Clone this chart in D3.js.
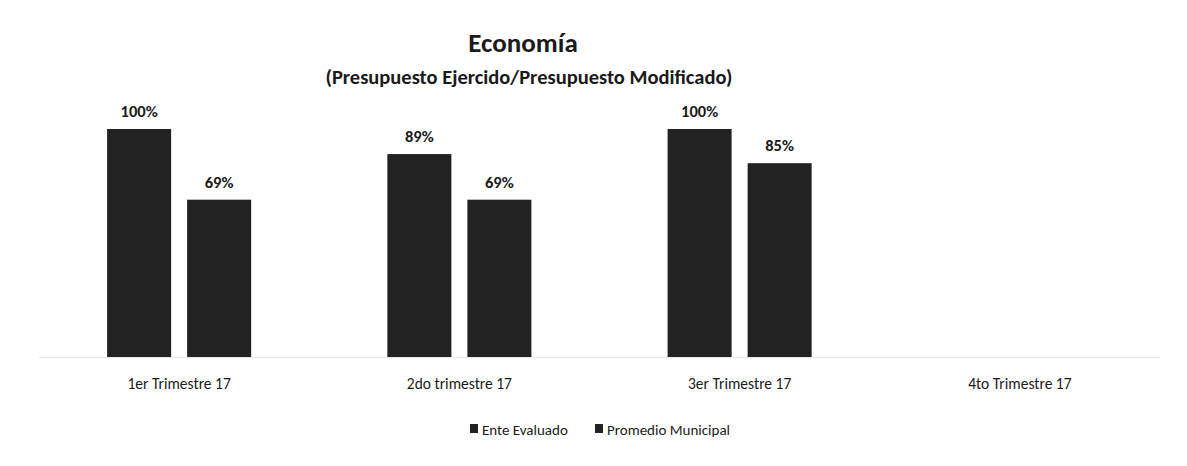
<!DOCTYPE html>
<html lang="es">
<head>
<meta charset="UTF-8">
<script src="https://d3js.org/d3.v7.min.js"></script>
<style>
  body { margin: 0; background: #fff; }
  svg { display: block; font-family: Carlito, "Liberation Sans Narrow", "Open Sans", sans-serif; }
</style>
</head>
<body>
<div id="chart"></div>
<script>
// Data
const categories = ["1er Trimestre 17", "2do trimestre 17", "3er Trimestre 17", "4to Trimestre 17"];
const seriesNames = ["Ente Evaluado", "Promedio Municipal"];
const enteEvaluado = [1.00, 0.89, 1.00, null];
const promedioMunicipal = [0.69, 0.69, 0.85, null];

const width = 1187, height = 466;

const svg = d3.select("#chart").append("svg")
    .attr("width", width)
    .attr("height", height);

svg.append("rect").attr("width", width).attr("height", height).attr("fill", "#fff");

// Scales
const x0 = d3.scaleBand()
    .domain(categories)
    .range([39, 1160])
    .paddingInner(0.486)
    .paddingOuter(0.243);

const x1 = d3.scaleBand()
    .domain(seriesNames)
    .range([0, x0.bandwidth()])
    .paddingInner(0.2);

const y = d3.scaleLinear()
    .domain([0, 1])
    .range([357, 129]);

const rows = categories.map((c, i) => ({
    cat: c,
    values: [
        { key: seriesNames[0], v: enteEvaluado[i] },
        { key: seriesNames[1], v: promedioMunicipal[i] }
    ]
}));

// Title
svg.append("text")
    .attr("x", 523).attr("y", 52)
    .attr("text-anchor", "middle")
    .style("font-size", "27px")
    .style("font-weight", "bold")
    .attr("fill", "#1a1a1a")
    .text("Economía");

svg.append("text")
    .attr("x", 529).attr("y", 84)
    .attr("text-anchor", "middle")
    .style("font-size", "20.5px")
    .style("font-weight", "bold")
    .attr("fill", "#1a1a1a")
    .text("(Presupuesto Ejercido/Presupuesto Modificado)");

// Baseline
svg.append("line")
    .attr("x1", 39).attr("x2", 1160)
    .attr("y1", y(0) + 0.5).attr("y2", y(0) + 0.5)
    .attr("stroke", "#e6e6e6");

// Bars
const groups = svg.selectAll(".grp")
    .data(rows)
    .join("g")
    .attr("class", "grp")
    .attr("transform", d => `translate(${x0(d.cat)},0)`);

groups.selectAll("rect")
    .data(d => d.values.filter(v => v.v != null))
    .join("rect")
    .attr("x", d => x1(d.key))
    .attr("y", d => y(d.v))
    .attr("width", x1.bandwidth())
    .attr("height", d => y(0) - y(d.v))
    .attr("fill", "#222");

groups.selectAll(".val")
    .data(d => d.values.filter(v => v.v != null))
    .join("text")
    .attr("class", "val")
    .attr("x", d => x1(d.key) + x1.bandwidth() / 2)
    .attr("y", d => y(d.v) - 12)
    .attr("text-anchor", "middle")
    .style("font-size", "16.5px")
    .style("font-weight", "bold")
    .attr("fill", "#1a1a1a")
    .text(d => d3.format(".0%")(d.v));

// Category axis
svg.append("g")
    .attr("transform", `translate(0,${y(0) + 18})`)
    .call(d3.axisBottom(x0).tickSize(0))
    .call(g => g.select(".domain").remove())
    .selectAll("text")
    .style("font-size", "15.5px")
    .style("font-family", "Carlito, 'Liberation Sans Narrow', 'Open Sans', sans-serif")
    .attr("fill", "#1a1a1a");

// Legend
const legendX = [470, 595];
const legend = svg.append("g");
const li = legend.selectAll("g")
    .data(seriesNames)
    .join("g")
    .attr("transform", (d, i) => `translate(${legendX[i]},430)`);

li.append("rect")
    .attr("x", 0).attr("y", -6)
    .attr("width", 8).attr("height", 9)
    .attr("fill", "#222");

li.append("text")
    .attr("x", 12).attr("y", 5)
    .style("font-size", "15px")
    .attr("fill", "#1a1a1a")
    .text(d => d);
</script>
</body>
</html>
